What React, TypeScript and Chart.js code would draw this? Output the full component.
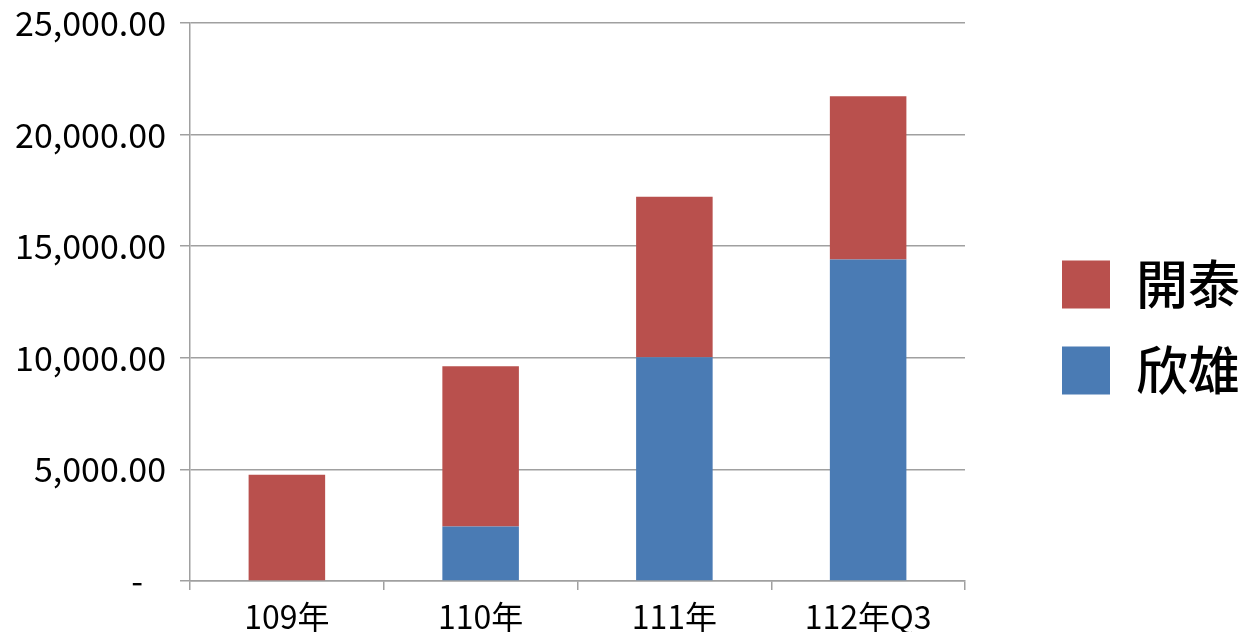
import React, { useEffect, useRef } from "react";
import { Chart, registerables } from "chart.js";

Chart.register(...registerables);

const categories = ["109年", "110年", "111年", "112年Q3"];
const xinxiong = [0, 2440, 10030, 14400]; // 欣雄 (bottom, blue)
const kaitai = [4760, 7180, 7190, 7320]; // 開泰 (top, red)
const yTicks = [0, 5000, 10000, 15000, 20000, 25000];

const FONT = "'Noto Sans CJK TC', 'Noto Sans', sans-serif";
const GRID = "#A0A0A0";
const LEGEND_WIDTH = 282;
const LEGEND_PAD = 34;
const LEGEND_DX = 97 - LEGEND_PAD;
const LEGEND_DY = 0;

const legendPlacer = {
  id: "legendPlacer",
  beforeUpdate(chart: any) {
    const lg = chart.legend;
    if (lg && !lg._patched) {
      const orig = lg.fit.bind(lg);
      lg.fit = function () {
        orig();
        this.width = LEGEND_WIDTH;
      };
      lg._patched = true;
    }
  },
  afterLayout(chart: any) {
    const lg = chart.legend;
    if (lg) {
      lg.left += LEGEND_DX;
      lg.right += LEGEND_DX;
      lg.top += LEGEND_DY;
      lg.bottom += LEGEND_DY;
    }
  },
};

export default function App() {
  const ref = useRef<HTMLCanvasElement>(null);
  useEffect(() => {
    if (!ref.current) return;
    const chart = new Chart(ref.current, {
      type: "bar",
      data: {
        labels: categories,
        datasets: [
          {
            label: "欣雄",
            data: xinxiong,
            backgroundColor: "#4A7BB4",
            barPercentage: 0.395,
            categoryPercentage: 1,
          },
          {
            label: "開泰",
            data: kaitai,
            backgroundColor: "#B9504D",
            barPercentage: 0.395,
            categoryPercentage: 1,
          },
        ],
      },
      plugins: [legendPlacer],
      options: {
        animation: false,
        responsive: true,
        maintainAspectRatio: false,
        layout: { padding: { top: 23, right: 0, left: 0, bottom: 0 } },
        plugins: {
          tooltip: { enabled: false },
          legend: {
            position: "right",
            reverse: true,
            labels: {
              boxWidth: 48,
              boxHeight: 48,
              padding: LEGEND_PAD,
              color: "#000",
              font: { family: FONT, size: 52, weight: "500" },
            },
          },
        },
        scales: {
          x: {
            stacked: true,
            grid: {
              drawOnChartArea: false,
              drawTicks: true,
              tickLength: 9,
              color: GRID,
              lineWidth: 1.5,
            },
            border: { color: GRID, width: 1.5 },
            ticks: {
              color: "#000",
              padding: 8,
              font: { family: FONT, size: 32 },
              maxRotation: 0,
            },
            afterFit(scale: any) {
              scale.height = 51;
            },
          },
          y: {
            stacked: true,
            min: 0,
            max: 25000,
            afterBuildTicks(scale: any) {
              scale.ticks = yTicks.map((v) => ({ value: v }));
            },
            grid: {
              color: GRID,
              lineWidth: 1.5,
              tickLength: 10,
            },
            border: { color: GRID, width: 1.5 },
            ticks: {
              color: "#000",
              padding: 14,
              font: { family: FONT, size: 34 },
              callback: (v: any) =>
                Number(v) === 0
                  ? "-   "
                  : Number(v).toLocaleString("en-US", {
                      minimumFractionDigits: 2,
                      maximumFractionDigits: 2,
                    }),
            },
            afterFit(scale: any) {
              scale.width = 190;
              scale.paddingTop = 0;
              scale.paddingBottom = 0;
            },
          },
        },
      },
    });
    return () => chart.destroy();
  }, []);
  return (
    <div style={{ position: "absolute", left: 0, top: 0, width: 1247, height: 632, background: "#fff" }}>
      <canvas ref={ref} />
    </div>
  );
}
